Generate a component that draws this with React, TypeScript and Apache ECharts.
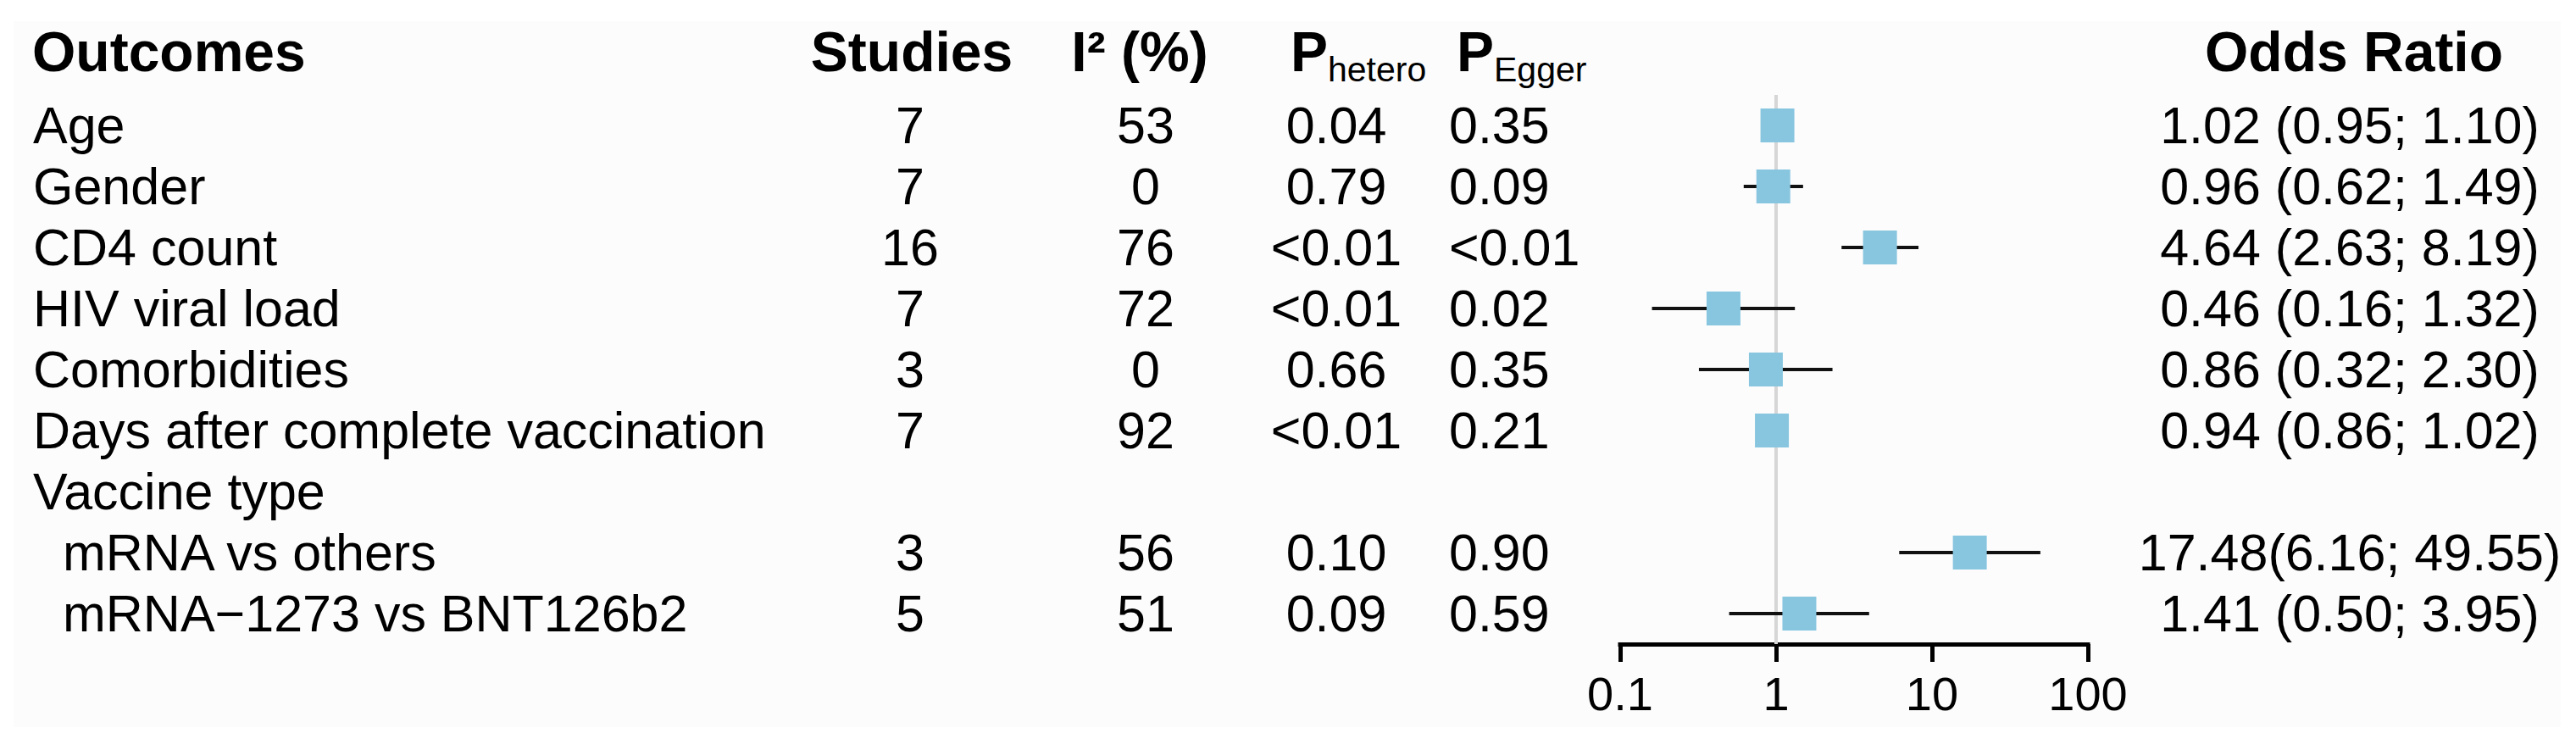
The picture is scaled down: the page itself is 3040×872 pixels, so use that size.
import React, { useEffect, useRef } from "react";
import * as echarts from "echarts";

// ---------- data ----------
const outcomes = [
  "Age",
  "Gender",
  "CD4 count",
  "HIV viral load",
  "Comorbidities",
  "Days after complete vaccination",
  "Vaccine type",
  "mRNA vs others",
  "mRNA\u22121273 vs BNT126b2",
];
const indented = [false, false, false, false, false, false, false, true, true];
const studies = ["7", "7", "16", "7", "3", "7", "", "3", "5"];
const i2 = ["53", "0", "76", "72", "0", "92", "", "56", "51"];
const pHetero = ["0.04", "0.79", "<0.01", "<0.01", "0.66", "<0.01", "", "0.10", "0.09"];
const pEgger = ["0.35", "0.09", "<0.01", "0.02", "0.35", "0.21", "", "0.90", "0.59"];
const orEst: (number | null)[] = [1.02, 0.96, 4.64, 0.46, 0.86, 0.94, null, 17.48, 1.41];
const orLow: (number | null)[] = [0.95, 0.62, 2.63, 0.16, 0.32, 0.86, null, 6.16, 0.5];
const orHigh: (number | null)[] = [1.1, 1.49, 8.19, 1.32, 2.3, 1.02, null, 49.55, 3.95];
const orLabels = [
  "1.02 (0.95; 1.10)",
  "0.96 (0.62; 1.49)",
  "4.64 (2.63; 8.19)",
  "0.46 (0.16; 1.32)",
  "0.86 (0.32; 2.30)",
  "0.94 (0.86; 1.02)",
  "",
  "17.48(6.16; 49.55)",
  "1.41 (0.50; 3.95)",
];
const xTicks = [0.1, 1, 10, 100];

// ---------- layout ----------
const W = 3040;
const H = 872;
const FONT = "'Liberation Sans', Arial, Helvetica, sans-serif";
const GRID_LEFT = 1912;
const GRID_RIGHT_X = 2464;
const GRID_TOP = 112;
const ROW_H = 72;
const BODY_FS = 61;
const HEAD_FS = 66;
const SUB_FS = 41;
const HEAD_Y = 61;
const BOX = 40;
const COL = {
  outcome: 39,
  indent: 74,
  studies: 1074,
  i2: 1352,
  pHet: 1577,
  pEgg: 1710,
  or: 2773,
};
const BOX_COLOR = "#88c6e0";

export default function App() {
  const ref = useRef<HTMLDivElement>(null);

  useEffect(() => {
    if (!ref.current) return;
    const chart = echarts.init(ref.current, null, { renderer: "svg" });
    const n = outcomes.length;
    const gridH = n * ROW_H;
    const rowY = (i: number) => GRID_TOP + (i + 0.5) * ROW_H;

    const txt = (
      text: string,
      x: number,
      y: number,
      align: string,
      size: number,
      bold = false
    ) => ({
      type: "text",
      x,
      y,
      silent: true,
      style: {
        text,
        x: 0,
        y: 0,
        fill: "#000",
        font: `${bold ? "bold " : ""}${size}px ${FONT}`,
        fontSize: size,
        fontWeight: bold ? "bold" : "normal",
        fontFamily: FONT,
        textAlign: align,
        textVerticalAlign: "middle",
        verticalAlign: "middle",
      },
    });

    const graphics: any[] = [
      {
        type: "rect",
        silent: true,
        z: -10,
        shape: { x: 16, y: 25, width: 3006, height: 833 },
        style: { fill: "#fcfcfc" },
      },
      txt("Outcomes", 38, HEAD_Y, "left", HEAD_FS, true),
      txt("Studies", 1076, HEAD_Y, "center", HEAD_FS, true),
      txt("I\u00b2 (%)", 1345, HEAD_Y, "center", HEAD_FS, true),
      txt("P", 1523, HEAD_Y, "left", HEAD_FS, true),
      txt("hetero", 1567, 82, "left", SUB_FS, false),
      txt("P", 1719, HEAD_Y, "left", HEAD_FS, true),
      txt("Egger", 1763, 82, "left", SUB_FS, false),
      txt("Odds Ratio", 2778, HEAD_Y, "center", HEAD_FS, true),
    ];

    for (let i = 0; i < n; i++) {
      const y = rowY(i);
      graphics.push(
        txt(outcomes[i], indented[i] ? COL.indent : COL.outcome, y, "left", BODY_FS)
      );
      if (studies[i]) graphics.push(txt(studies[i], COL.studies, y, "center", BODY_FS));
      if (i2[i]) graphics.push(txt(i2[i], COL.i2, y, "center", BODY_FS));
      if (pHetero[i]) graphics.push(txt(pHetero[i], COL.pHet, y, "center", BODY_FS));
      if (pEgger[i]) graphics.push(txt(pEgger[i], COL.pEgg, y, "left", BODY_FS));
      if (orLabels[i]) graphics.push(txt(orLabels[i], COL.or, y, "center", BODY_FS));
    }

    const forestData = outcomes
      .map((_, i) => [i, orEst[i], orLow[i], orHigh[i]])
      .filter((d) => d[1] != null);

    chart.setOption({
      animation: false,
      backgroundColor: "#ffffff",
      grid: {
        left: GRID_LEFT,
        width: GRID_RIGHT_X - GRID_LEFT,
        top: GRID_TOP,
        height: gridH,
        containLabel: false,
      },
      xAxis: {
        type: "log",
        logBase: 10,
        min: xTicks[0],
        max: xTicks[xTicks.length - 1],
        axisLine: { show: true, lineStyle: { color: "#000", width: 5, cap: "square" } },
        axisTick: { show: true, length: 21, lineStyle: { color: "#000", width: 5 } },
        splitLine: { show: false },
        minorTick: { show: false },
        axisLabel: {
          show: true,
          margin: 30,
          fontSize: 56,
          fontFamily: FONT,
          color: "#000",
          formatter: (v: number) => (v < 1 ? Number(v).toFixed(1) : String(Math.round(v))),
        },
      },
      yAxis: {
        type: "category",
        data: outcomes,
        inverse: true,
        show: false,
        boundaryGap: true,
      },
      graphic: graphics,
      series: [
        {
          type: "scatter",
          data: [],
          z: 1,
          markLine: {
            silent: true,
            symbol: "none",
            label: { show: false },
            lineStyle: { color: "#d6d6d6", width: 4, type: "solid" },
            data: [{ xAxis: 1 }],
          },
        },
        {
          type: "custom",
          z: 5,
          data: forestData,
          renderItem: (params: any, api: any) => {
            const idx = api.value(0);
            const est = api.value(1);
            const lo = api.value(2);
            const hi = api.value(3);
            const pc = api.coord([est, idx]);
            const pl = api.coord([lo, idx]);
            const ph = api.coord([hi, idx]);
            return {
              type: "group",
              children: [
                {
                  type: "line",
                  shape: { x1: pl[0], y1: pc[1], x2: ph[0], y2: pc[1] },
                  style: { stroke: "#111", lineWidth: 4 },
                },
                {
                  type: "rect",
                  shape: { x: pc[0] - BOX / 2, y: pc[1] - BOX / 2, width: BOX, height: BOX },
                  style: { fill: BOX_COLOR },
                },
              ],
            };
          },
        },
      ],
    });

    return () => chart.dispose();
  }, []);

  return (
    <div
      ref={ref}
      style={{ position: "fixed", left: 0, top: 0, width: W, height: H, background: "#fff" }}
    />
  );
}
